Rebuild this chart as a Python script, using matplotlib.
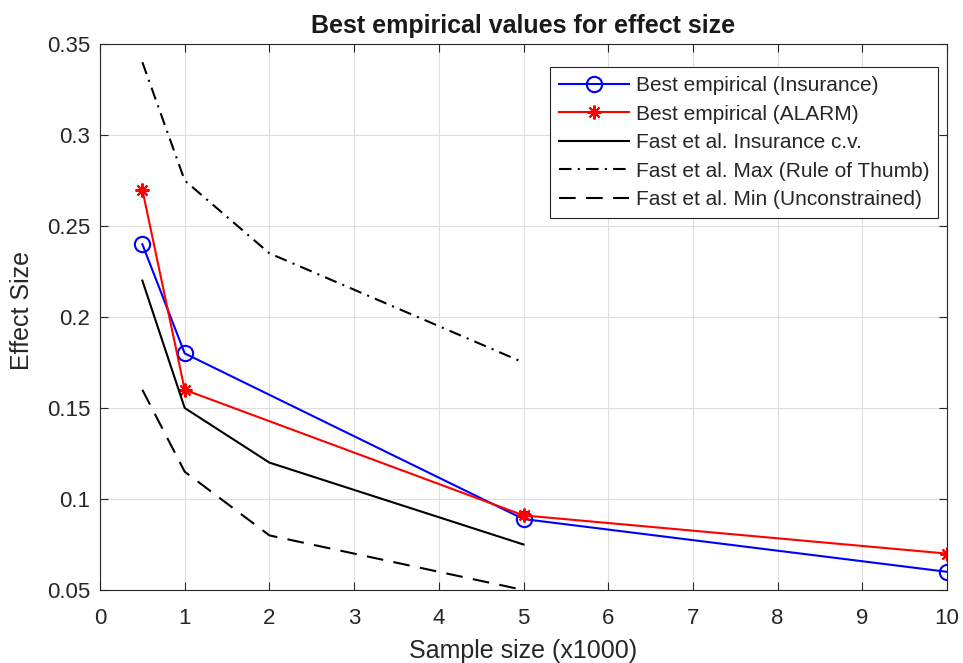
import matplotlib
matplotlib.use("Agg")
import matplotlib.pyplot as plt

plt.rcParams['font.family'] = ['Liberation Sans', 'DejaVu Sans']

x_emp = [0.5, 1, 5, 10]
ins_emp = [0.24, 0.18, 0.089, 0.06]
alarm_emp = [0.27, 0.16, 0.091, 0.07]
x_fast = [0.5, 1, 2, 5]
fast_ins = [0.22, 0.15, 0.12, 0.075]
fast_max = [0.34, 0.275, 0.235, 0.175]
fast_min = [0.16, 0.115, 0.08, 0.05]
xticks = list(range(0, 11))
yticks = [0.05, 0.1, 0.15, 0.2, 0.25, 0.3, 0.35]
ytick_labels = ['0.05', '0.1', '0.15', '0.2', '0.25', '0.3', '0.35']

W, H = 963, 663
L, R, T, B = 100, 947, 44, 590
fig = plt.figure(figsize=(W/100, H/100), dpi=100)
ax = fig.add_axes([L/W, (H-B)/H, (R-L)/W, (B-T)/H])

tc = (0.15, 0.15, 0.15)
ax.plot(x_emp, ins_emp, color='blue', lw=1.5, marker='o', ms=11, mfc='none', mew=1.5,
        label='Best empirical (Insurance)')
ax.plot(x_emp, alarm_emp, color='red', lw=1.5, marker=(8, 2, 0), ms=10, mew=1.5,
        label='Best empirical (ALARM)')
ax.plot(x_fast, fast_ins, color='black', lw=1.5, label='Fast et al. Insurance c.v.')
ax.plot(x_fast, fast_max, color='black', lw=1.5, linestyle=(0, (6, 3, 1, 3)),
        label='Fast et al. Max (Rule of Thumb)')
ax.plot(x_fast, fast_min, color='black', lw=1.5, linestyle=(0, (8, 5)),
        label='Fast et al. Min (Unconstrained)')

ax.set_xlim(0, 10)
ax.set_ylim(0.05, 0.35)
ax.set_xticks(xticks)
ax.set_yticks(yticks)
ax.set_yticklabels(ytick_labels)
ax.grid(True, color=(0.87, 0.87, 0.87), lw=0.8)
ax.set_axisbelow(True)
ax.tick_params(direction='in', length=6, width=0.8, colors=tc, labelsize=16,
               top=True, right=True)
ax.tick_params(axis='x', pad=13)
ax.tick_params(axis='y', pad=7)
for s in ax.spines.values():
    s.set_color(tc)
    s.set_linewidth(0.8)

ax.set_xlabel('Sample size (x1000)', fontsize=18, color=tc, va='baseline')
ax.xaxis.set_label_coords(0.5, (B-658)/(B-T))
ax.set_ylabel('Effect Size', fontsize=18, color=tc, va='center')
ax.yaxis.set_label_coords((22-L)/(R-L), (B-310)/(B-T))
ax.set_title('Best empirical values for effect size', fontsize=18, fontweight='bold',
             color=(0.1, 0.1, 0.1), pad=8)

leg = ax.legend(loc='upper right', bbox_to_anchor=((938-L)/(R-L), (B-67)/(B-T)),
                borderaxespad=0, fontsize=15,
                frameon=True, fancybox=False, edgecolor=tc, framealpha=1,
                handlelength=3.36, borderpad=0.43, labelspacing=0.46, handletextpad=0.3)
leg.get_frame().set_linewidth(0.8)
for t in leg.get_texts():
    t.set_color(tc)

fig.savefig('out.png', dpi=100)
